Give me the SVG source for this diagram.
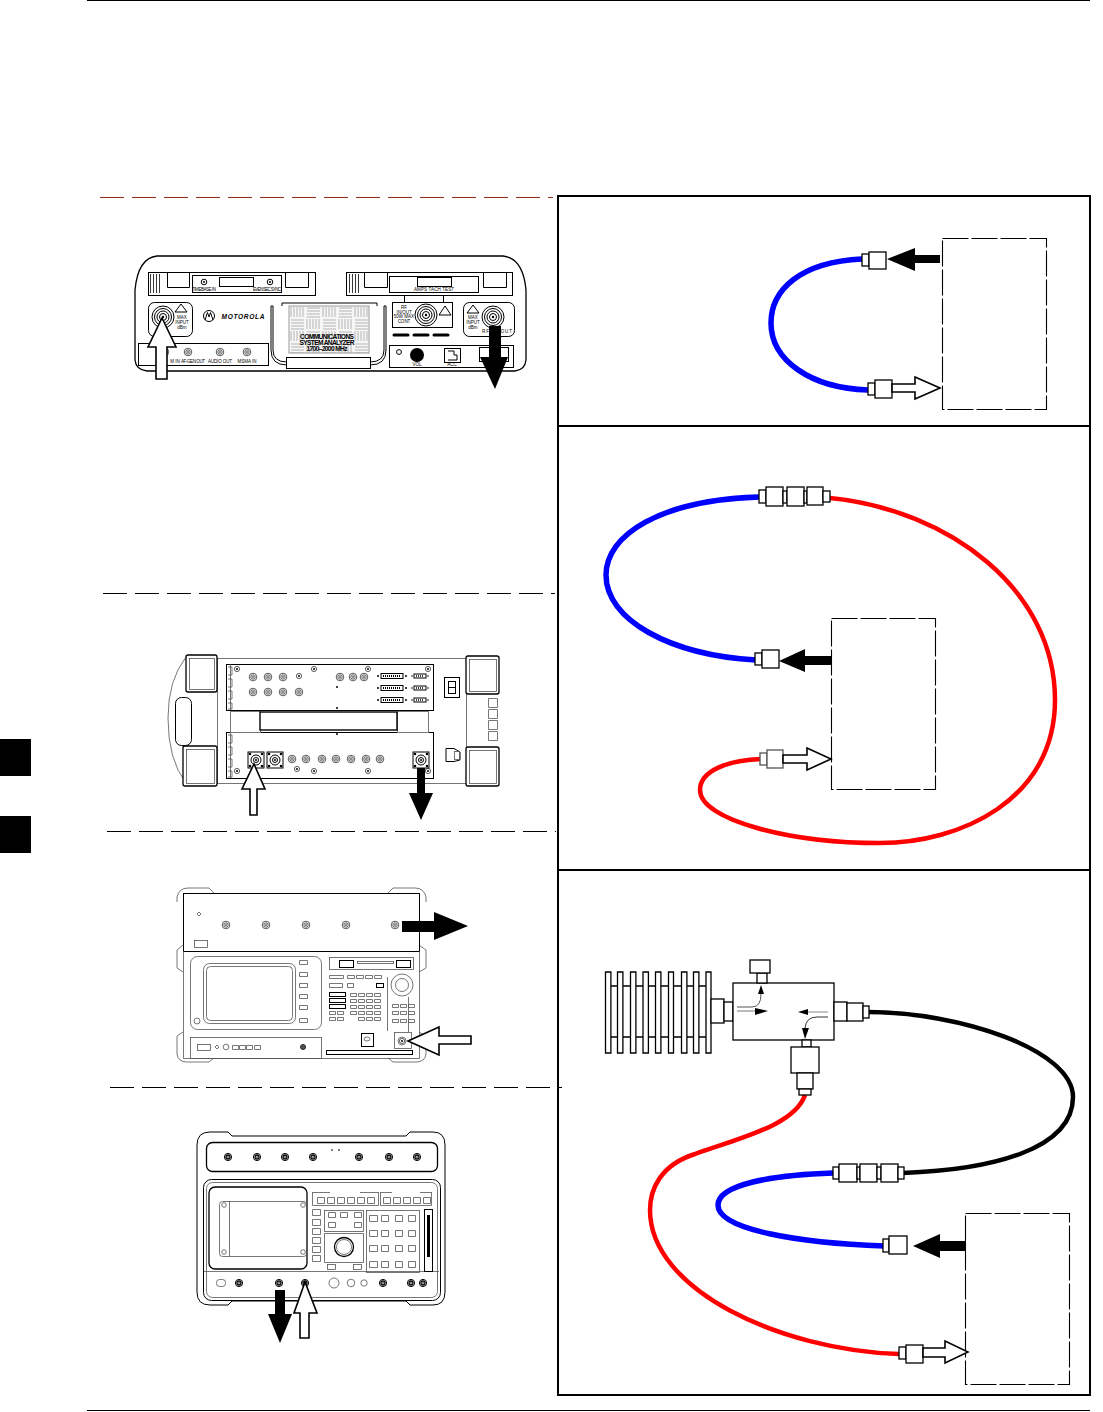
<svg xmlns="http://www.w3.org/2000/svg" width="1103" height="1412" viewBox="0 0 1103 1412">
<style>
.l{fill:none;stroke:#000;stroke-width:1}
.g{fill:none;stroke:#555;stroke-width:.8}
.w{fill:#fff;stroke:#000;stroke-width:1}
.m{fill:#fff;stroke:#000;stroke-width:1.3}
.b{fill:#000;stroke:none}
.d{fill:none;stroke:#000;stroke-width:1.1;stroke-dasharray:26 3}
.sep{fill:none;stroke:#000;stroke-width:1;stroke-dasharray:24 8}
.f{fill:none;stroke:#000;stroke-width:2}
.cb{fill:none;stroke:#00f;stroke-width:5.500}
.cr{fill:none;stroke:#f00;stroke-width:4.500}
.ck{fill:none;stroke:#000;stroke-width:4.500}
.wa{fill:#fff;stroke:#000;stroke-width:1.600}
.t{font-family:"Liberation Sans",Arial,sans-serif;font-size:4.500px;fill:#000;text-anchor:middle}
.tb{font-family:"Liberation Sans",Arial,sans-serif;font-size:6.600px;font-weight:bold;fill:#000;text-anchor:middle}
</style>
<defs>
<g id="p"><circle r="3.800" fill="#fff" stroke="#333" stroke-width=".8"/><circle r="2.200" fill="none" stroke="#333" stroke-width=".8"/><circle r=".8" class="b"/></g>
<g id="pd"><circle r="3.600" class="w"/><circle r="2" fill="none" stroke="#000" stroke-width="1.300"/><circle r=".8" class="b"/></g>
<g id="big"><circle r="11" class="w"/><circle r="8.500" class="l"/><circle r="6" class="l"/><circle r="3.500" class="l"/><circle r="1.200" class="b"/></g>
<g id="sc"><circle r="2.600" fill="#fff" stroke="#333" stroke-width=".8"/><circle r="1" class="b"/></g>
<g id="n"><rect x="-8" y="-8" width="16" height="16" class="w"/><circle r="5" class="l"/><circle r="2.500" class="l"/><circle r="1" class="b"/><circle cx="-6" cy="-6" r="1.300" class="b"/><circle cx="6" cy="-6" r="1.300" class="b"/><circle cx="-6" cy="6" r="1.300" class="b"/><circle cx="6" cy="6" r="1.300" class="b"/></g>
<g id="ds"><rect x="-11" y="-2.500" width="22" height="5" class="w"/><path d="M-9 0H9" stroke="#000" stroke-width="2" stroke-dasharray="1 1"/><circle cx="-14" r="1" class="b"/><circle cx="14" r="1" class="b"/></g>
<g id="dz"><rect x="-6" y="-2" width="12" height="4" class="w"/><path d="M-4 0H4" stroke="#000" stroke-width="1.500" stroke-dasharray="1 1"/><circle cx="-8" r=".8" class="b"/><circle cx="8" r=".8" class="b"/></g>
<pattern id="weave" width="32" height="24" patternUnits="userSpaceOnUse" x="289" y="306">
<rect width="32" height="24" fill="#f6f6f6"/>
<path d="M2 1V11M5 1V11M8 1V11M11 1V11M14 1V11M18 2H31M18 5H31M18 8H31M18 11H31M2 14H15M2 17H15M2 20H15M2 23H15M18 13V23M21 13V23M24 13V23M27 13V23M30 13V23" fill="none" stroke="#b5b5b5" stroke-width="1"/>
</pattern>
<g id="grille"><path d="M.5 0V19M3.500 0V19M6.500 0V19M9.500 0V19" fill="none" stroke="#222" stroke-width=".9"/></g>
</defs>
<rect width="1103" height="1412" fill="#fff"/>
<g id="page">
<path d="M87 .5H1090M87 1410.500H1090" class="l"/>
<rect x="0" y="739" width="31" height="37" class="b"/>
<rect x="0" y="816" width="31" height="37" class="b"/>
<path d="M100 197.500H553" fill="none" stroke="#8a2a10" stroke-width="1.100" stroke-dasharray="24 8"/>
<path d="M103 593.500H555M107 831.500H556M110 1087.500H562" class="sep"/>
</g>
<g id="frames">
<rect x="558" y="196" width="532" height="1199" class="f"/>
<path d="M558 426H1090M558 870H1090" class="f"/>
</g>

<g id="device-cdma-analyzer">
<path d="M157 256H503Q523 258 526 290V360Q525 370 515 371H147Q136 370 135 360V290Q138 258 157 256Z" class="m"/>
<rect x="148.500" y="272.500" width="167" height="23" class="l"/>
<use href="#grille" x="150" y="274"/>
<path d="M167.500 272V287.500H189.500V272M285.500 272V287.500H308.500V272" class="l"/>
<rect x="192.500" y="275.500" width="89" height="17" class="w"/>
<rect x="219.500" y="277.500" width="34" height="9" class="l"/><circle cx="204" cy="282" r="2.800" class="l"/><circle cx="204" cy="282" r="1" class="b"/><circle cx="270" cy="282" r="2.800" class="l"/><circle cx="270" cy="282" r="1" class="b"/>
<text x="204" y="291" class="t" textLength="24">TIMEBASE IN</text><text x="267" y="291" class="t" textLength="28">EVEN SEC SYNC</text>
<rect x="346.500" y="272.500" width="166" height="23" class="l"/>
<use href="#grille" x="349" y="274"/>
<path d="M364.500 272V287.500H387.500V272M483.500 272V287.500H506.500V272" class="l"/>
<rect x="389.500" y="276.500" width="89" height="16" class="w"/>
<rect x="417.500" y="277.500" width="34" height="9" class="l"/>
<text x="434" y="291" class="t" textLength="40">AMPS TACH TEST</text>
<rect x="148.500" y="302.500" width="44" height="34" rx="6" class="l"/>
<use href="#big" x="163" y="317"/>
<path d="M181 304L187 312H175Z" class="l"/>
<text x="182" y="319" class="t"><tspan x="182">MAX</tspan><tspan x="182" dy="5">INPUT</tspan><tspan x="182" dy="5">dBm</tspan></text>
<circle cx="209" cy="316" r="5.500" class="l"/>
<path d="M205 320L207.500 312.500L209 317L210.500 312.500L213 320" class="l"/>
<text x="243" y="319" class="tb" font-style="italic" textLength="43">MOTOROLA</text>
<path d="M271 306V350Q271 365 287 365M282 303H377M282 303V306M377 303V306M386 306V350Q386 365 370 365" class="l"/>
<path d="M271 306H273M384 306H386M273 306V350Q273 362 287 362M384 306V350Q384 362 370 362" class="l"/>
<rect x="289" y="306" width="80" height="47" fill="url(#weave)" stroke="#999"/>
<text x="327" y="339" class="tb" textLength="54">COMMUNICATIONS</text><text x="327" y="345" class="tb" textLength="55">SYSTEM ANALYZER</text><text x="327" y="351" class="tb" textLength="41">1700–2000 MHz</text>
<rect x="286.500" y="357.500" width="84" height="11" class="w"/>
<rect x="138.500" y="343.500" width="130" height="22" class="l"/>
<use href="#p" x="165" y="352"/><use href="#p" x="188" y="352"/><use href="#p" x="220" y="352"/><use href="#p" x="247" y="352"/>
<text x="175" y="363" class="t">M IN</text><text x="193" y="363" class="t" textLength="24">AF-GEN OUT</text><text x="220" y="363" class="t" textLength="24">AUDIO OUT</text><text x="247" y="363" class="t" textLength="19">MSMA IN</text>
<path d="M404.500 295V302M443.500 295V302" class="l"/>
<rect x="392.500" y="302.500" width="60" height="25" class="l"/>
<text x="404" y="309" class="t"><tspan x="404">RF</tspan><tspan x="404" dy="4.500">IN/OUT</tspan><tspan x="404" dy="4.500">50W MAX</tspan><tspan x="404" dy="4.500">CONT</tspan></text>
<use href="#big" x="426" y="315"/>
<path d="M445 306L451 315H439Z" class="l"/>
<rect x="463.500" y="302.500" width="51" height="34" rx="6" class="l"/>
<use href="#big" x="493" y="317"/>
<path d="M473 305L479 313H467Z" class="l"/>
<text x="473" y="319" class="t"><tspan x="473">MAX</tspan><tspan x="473" dy="5">INPUT</tspan><tspan x="473" dy="5">dBm</tspan></text>
<text x="497" y="333" class="t" textLength="30">RF IN/OUT</text>
<path d="M394 335H408M414 335H428M434 335H448" stroke="#000" stroke-width="3" stroke-linecap="round"/>
<rect x="389.500" y="345.500" width="124" height="22" class="l"/>
<circle cx="399" cy="352" r="2.400" class="l"/><circle cx="417" cy="355" r="7" class="b"/>
<text x="417" y="366" class="t">VOL</text>
<rect x="444.500" y="348.500" width="16" height="14" class="l"/><path d="M448 351H454V355H457V360H448" class="l"/>
<text x="452" y="366" class="t">ACC</text>
<rect x="479.500" y="347.500" width="29" height="14" class="l"/>
</g>

<g id="device-hp8921">
<path d="M186 657Q168 680 168 718Q168 760 186 783" class="g"/>
<rect x="175.500" y="697.500" width="16" height="48" rx="6" class="w" stroke="#555"/>
<rect x="217.500" y="658.500" width="249" height="125" class="g"/>
<rect x="186" y="655" width="31" height="37" rx="2" class="m"/><rect x="183" y="746" width="34" height="40" rx="2" class="m"/>
<rect x="466" y="656" width="33" height="38" rx="2" class="m"/><rect x="466" y="747" width="33" height="39" rx="2" class="m"/>
<rect x="189.500" y="658.500" width="25" height="31" class="g"/><rect x="186.500" y="749.500" width="28" height="34" class="g"/><rect x="469.500" y="659.500" width="27" height="32" class="g"/><rect x="469.500" y="750.500" width="27" height="33" class="g"/>
<rect x="226.500" y="664.500" width="207" height="46" class="l"/><rect x="226.500" y="732.500" width="207" height="46" class="l"/>
<path d="M230.500 664V710M230.500 732V778M228 667H232V675H228M228 679H232V687H228M228 691H232V699H228M228 703H232V709H228M228 735H232V743H228M228 747H232V755H228M228 759H232V767H228M228 771H232V777H228" class="g"/>
<rect x="230.500" y="711.500" width="30" height="21" fill="#fff" stroke="#777"/><rect x="397.500" y="711.500" width="31" height="21" fill="#fff" stroke="#777"/>
<rect x="260" y="712" width="137" height="18" fill="#fff" stroke="#000" stroke-width="1.400"/>
<use href="#p" x="253" y="677"/><use href="#p" x="268" y="677"/><use href="#p" x="283" y="677"/><use href="#sc" x="299" y="676"/><use href="#p" x="340" y="677"/><use href="#p" x="353" y="677"/><use href="#p" x="364" y="677"/>
<use href="#p" x="253" y="692"/><use href="#p" x="268" y="692"/><use href="#p" x="283" y="692"/><use href="#p" x="299" y="692"/>
<use href="#sc" x="237" y="669"/><use href="#sc" x="314" y="669"/><use href="#sc" x="368" y="669"/><use href="#sc" x="428" y="669"/>
<use href="#sc" x="237" y="771"/><use href="#sc" x="314" y="771"/><use href="#sc" x="368" y="771"/><use href="#sc" x="428" y="771"/><use href="#sc" x="297" y="769"/>
<use href="#ds" x="392" y="676"/><use href="#ds" x="392" y="688"/><use href="#ds" x="392" y="700"/>
<use href="#dz" x="420" y="676"/><use href="#dz" x="420" y="688"/><use href="#dz" x="420" y="700"/>
<circle cx="337" cy="687" r="1" class="b"/><circle cx="337" cy="708" r="1" class="b"/><circle cx="337" cy="734" r="1" class="b"/>
<rect x="444.500" y="677.500" width="15" height="20" class="l"/><rect x="448.500" y="681.500" width="7" height="12" class="l"/><path d="M448 687.500H455" class="l"/>
<path d="M488.500 698.500h9v9h-9zM488.500 709.500h9v9h-9zM488.500 720.500h9v9h-9zM488.500 731.500h9v9h-9z" class="g"/>
<path d="M446 748.500H454L460 752V760L454 761.500H446Z" class="l"/><rect x="454.500" y="751.500" width="5" height="8" class="g"/>
<use href="#n" x="275" y="760"/><use href="#n" x="256" y="760"/><use href="#n" x="421" y="760"/>
<use href="#p" x="292" y="759"/><use href="#p" x="306" y="759"/><use href="#p" x="322" y="759"/><use href="#p" x="336" y="759"/><use href="#p" x="351" y="759"/><use href="#p" x="366" y="759"/><use href="#p" x="380" y="759"/>
</g>

<g id="device-spectrum-analyzer">
<path d="M177 902V897Q179 888 188 888H209L214 893M426 902V897Q424 888 415 888H393L388 893M183 945L177 950V968L183 972M419 945L426 950V968L419 972M183 1032L177 1036V1054Q178 1062 187 1062H209L214 1058M419 1032L426 1036V1054Q425 1062 416 1062H393L388 1058" class="g"/>
<rect x="183.500" y="893.500" width="236" height="58" class="l"/>
<path d="M183.500 951V1058.500H419.500V951" class="g"/>
<path d="M197 914l2-2 2 2-2 2z" class="g"/>
<use href="#p" x="226" y="925"/><use href="#p" x="266" y="925"/><use href="#p" x="306" y="925"/><use href="#p" x="346" y="925"/><use href="#p" x="395" y="925"/>
<rect x="194.500" y="940.500" width="13" height="7" class="g"/>
<rect x="190.500" y="956.500" width="131" height="73" rx="7" class="g"/>
<rect x="203.500" y="963.500" width="92" height="60" rx="6" class="g"/><rect x="206.500" y="966.500" width="86" height="54" rx="4" class="g"/>
<circle cx="197" cy="1021" r="3" class="g"/>
<path d="M299.500 960.500h8v4h-8zM299.500 972.500h8v4h-8zM299.500 983.500h8v4h-8zM299.500 994.500h8v4h-8zM299.500 1005.500h8v4h-8zM299.500 1018.500h8v4h-8z" class="g"/>
<rect x="190.500" y="1037.500" width="131" height="21" class="g"/>
<rect x="197.500" y="1044.500" width="13" height="6" class="g"/><path d="M215 1047l2-2 2 2-2 2z" class="g"/><circle cx="226" cy="1047" r="2.800" class="g"/>
<path d="M232.500 1045.500h6v4h-6zM239.500 1045.500h6v4h-6zM246.500 1045.500h6v4h-6zM254.500 1045.500h6v4h-6z" class="g"/>
<circle cx="303" cy="1047" r="2.500" fill="#555" stroke="#222"/>
<rect x="329.500" y="957.500" width="84" height="12" class="g"/><rect x="339.500" y="960.500" width="14" height="7" class="l"/><rect x="357.500" y="961.500" width="36" height="2" class="g"/><rect x="396.500" y="960.500" width="14" height="7" class="l"/>
<path d="M329.500 975.500h14v3h-14zM347.500 975.500h7v3h-7zM356.500 975.500h7v3h-7zM365.500 975.500h7v3h-7zM374.500 975.500h7v3h-7z" class="g"/>
<path d="M329.500 983.500h13v4h-13zM347.500 983.500h6v4h-6z" class="g"/><rect x="376.500" y="983.500" width="7" height="4" class="l"/>
<rect x="329.500" y="992.500" width="16" height="4" class="w"/><rect x="329.500" y="998.500" width="16" height="4" class="w"/><rect x="329.500" y="1004.500" width="16" height="4" class="w"/>
<path d="M350.500 993.500h6v3h-6zM358.500 993.500h6v3h-6zM366.500 993.500h6v3h-6zM374.500 993.500h6v3h-6zM350.500 999.500h6v3h-6zM358.500 999.500h6v3h-6zM366.500 999.500h6v3h-6zM374.500 999.500h6v3h-6zM350.500 1005.500h6v3h-6zM358.500 1005.500h6v3h-6zM366.500 1005.500h6v3h-6zM374.500 1005.500h6v3h-6zM350.500 1011.500h6v3h-6zM358.500 1011.500h6v3h-6zM366.500 1011.500h6v3h-6zM374.500 1011.500h6v3h-6zM329.500 1011.500h6v3h-6zM337.500 1011.500h6v3h-6zM329.500 1017.500h6v3h-6zM337.500 1017.500h6v3h-6zM358.500 1017.500h6v3h-6zM366.500 1017.500h6v3h-6zM374.500 1017.500h6v3h-6z" class="g"/>
<path d="M387.500 977V1031M408.500 997V1032" class="g"/>
<circle cx="402" cy="985" r="11" class="g"/><circle cx="402" cy="985" r="6.500" class="g"/>
<path d="M392.500 1004.500h6v3h-6zM400.500 1004.500h6v3h-6zM408.500 1004.500h6v3h-6zM392.500 1011.500h6v3h-6zM400.500 1011.500h6v3h-6zM408.500 1011.500h6v3h-6zM392.500 1019.500h6v3h-6zM400.500 1019.500h6v3h-6zM408.500 1019.500h6v3h-6z" class="g"/>
<rect x="361.500" y="1033.500" width="12" height="13" class="l"/><ellipse cx="367" cy="1039" rx="3" ry="2" class="g"/>
<rect x="394.500" y="1032.500" width="17" height="16" class="g"/><use href="#sc" x="402" y="1041"/><circle cx="402" cy="1041" r="4" class="g"/>
<rect x="326.500" y="1050.500" width="86" height="4" class="l"/>
</g>

<g id="device-cms54">
<path d="M197 1145Q197 1132 210 1132H228L232 1136H406L410 1132H433Q445 1132 445 1145V1292Q445 1305 433 1305H410L406 1301H232L228 1305H210Q197 1305 197 1292Z" class="l"/>
<rect x="206.500" y="1142.500" width="231" height="29" rx="6" class="m"/>
<rect x="203.500" y="1179.500" width="237" height="121" rx="8" class="l"/><rect x="206.500" y="1182.500" width="231" height="115" rx="6" class="g"/>
<path d="M204 1271.500H439" class="g"/>
<use href="#pd" x="228" y="1157"/><use href="#pd" x="257" y="1157"/><use href="#pd" x="285" y="1157"/><use href="#pd" x="313" y="1157"/><use href="#pd" x="359" y="1157"/><use href="#pd" x="389" y="1157"/><use href="#pd" x="417" y="1157"/>
<circle cx="332" cy="1150" r=".9" fill="#444"/><circle cx="339" cy="1150" r=".9" fill="#444"/>
<rect x="209" y="1187" width="98" height="82" rx="6" class="m"/>
<rect x="219.500" y="1201.500" width="87" height="55" rx="3" class="g"/><path d="M229.500 1201V1256" class="g"/>
<circle cx="224" cy="1205" r="2.300" class="g"/><circle cx="224" cy="1252" r="2.300" class="g"/><circle cx="303" cy="1205" r="2.300" class="g"/><circle cx="303" cy="1252" r="2.300" class="g"/>
<path d="M312.500 1209.500h8v6h-8zM312.500 1219.500h8v6h-8zM312.500 1228.500h8v6h-8zM312.500 1237.500h8v6h-8zM312.500 1246.500h8v6h-8zM312.500 1255.500h8v6h-8z" class="g"/>
<path d="M312.500 1192V1205.500H378.500V1192M312.500 1192.500H330M360 1192.500H378.500M380.500 1192V1205.500H431.500V1192M380.500 1192.500H392M420 1192.500H431.500" class="g"/>
<path d="M317.500 1197.500h7v6h-7zM327.500 1197.500h7v6h-7zM337.500 1197.500h7v6h-7zM347.500 1197.500h7v6h-7zM357.500 1197.500h7v6h-7zM367.500 1197.500h7v6h-7zM383.500 1197.500h7v6h-7zM393.500 1197.500h7v6h-7zM403.500 1197.500h7v6h-7zM413.500 1197.500h7v6h-7zM423.500 1197.500h7v6h-7z" class="g"/>
<rect x="324.500" y="1210.500" width="39" height="21" class="g"/>
<path d="M328.500 1212.500h7v5h-7zM340.500 1212.500h7v5h-7zM354.500 1212.500h7v5h-7zM328.500 1222.500h7v5h-7zM354.500 1222.500h7v5h-7z" class="g"/>
<path d="M324.500 1233.500H363.500V1262.500H324.500Z" class="g"/><circle cx="344" cy="1247" r="9.500" class="m"/><circle cx="344" cy="1247" r="7.500" class="g"/>
<rect x="327.500" y="1264.500" width="8" height="5" class="g"/><rect x="353.500" y="1264.500" width="8" height="5" class="g"/>
<rect x="366.500" y="1210.500" width="53" height="62" class="g"/>
<path d="M369.500 1215.500h8v6h-8zM381.500 1215.500h7v6h-7zM395.500 1215.500h7v6h-7zM408.500 1215.500h7v6h-7zM369.500 1230.500h8v6h-8zM381.500 1230.500h7v6h-7zM395.500 1230.500h7v6h-7zM408.500 1230.500h7v6h-7zM369.500 1245.500h8v6h-8zM381.500 1245.500h7v6h-7zM395.500 1245.500h7v6h-7zM408.500 1245.500h7v6h-7zM369.500 1261.500h8v6h-8zM381.500 1261.500h7v6h-7zM395.500 1261.500h7v6h-7zM408.500 1261.500h7v6h-7z" class="g"/>
<rect x="424.500" y="1209.500" width="8" height="62" class="w"/><rect x="427" y="1215" width="3" height="42" class="b"/>
<rect x="216.500" y="1279.500" width="9" height="7" rx="3" class="g"/><use href="#pd" x="239" y="1283"/><use href="#pd" x="279" y="1283"/><use href="#pd" x="305" y="1283"/>
<circle cx="334" cy="1283" r="5" class="g"/><circle cx="351" cy="1283" r="3.800" class="g"/><circle cx="364" cy="1283" r="3.200" class="g"/>
<use href="#pd" x="383" y="1283"/><use href="#pd" x="411" y="1283"/><use href="#pd" x="423" y="1283"/>
</g>

<g id="bay-1-dut">
<rect x="942.500" y="238.500" width="104" height="171" class="d"/>
</g>
<g id="bay-2-dut">
<rect x="831.500" y="618.500" width="104" height="171" class="d"/>
</g>
<g id="bay-3-dut">
<rect x="965.500" y="1213.500" width="104" height="171" class="d"/>
</g>

<g id="connectors">
<path d="M862 259C800 262 771 290 771 323C771 360 810 388 868 390" class="cb"/>
<path d="M759 497C660 500 606 535 606 575C606 620 670 655 756 660" class="cb"/>
<path d="M830 498C950 510 1055 590 1055 700C1055 800 960 843 880 843C790 843 700 820 700 790C700 770 730 760 761 759" class="cr"/>
<path d="M805 1095C795 1125 740 1138 695 1154C660 1165 650 1190 650 1210C650 1290 780 1350 899 1354" class="cr"/>
<path d="M868 1012C960 1012 1073 1050 1073 1097C1073 1150 990 1170 903 1173" class="ck"/>
<path d="M833 1173C770 1175 718 1185 718 1205C718 1230 800 1243 884 1246" class="cb"/>

<polygon points="162,318 176,347 167,347 167,379 156,379 156,347 148,347" class="wa"/>
<polygon points="489,326 501,326 501,357 508,357 495,389 480,357 489,357" class="b"/>
<polygon points="254,764 265,789 257,789 257,815 250,815 250,789 242,789" class="wa"/>
<polygon points="417,768 425,768 425,793 433,793 421,820 409,793 417,793" class="b"/>
<polygon points="402,921 434,921 434,912 468,926 434,940 434,932 402,932" class="b"/>
<polygon points="408,1041 439,1027 439,1036 471,1036 471,1044 439,1044 439,1055" class="wa"/>
<polygon points="305,1282 317,1313 309,1313 309,1338 300,1338 300,1313 294,1313" class="wa"/>
<polygon points="275,1290 285,1290 285,1314 292,1314 280,1343 268,1314 275,1314" class="b"/>

<rect x="862" y="254" width="7" height="12" class="m"/><rect x="869" y="252" width="17" height="17" class="m"/>
<polygon points="887,259 915,248 915,255 940,255 940,263 915,263 915,271" class="b"/>
<rect x="868" y="383" width="7" height="12" class="m"/><rect x="875" y="380" width="17" height="18" class="m"/>
<polygon points="892,384 915,384 915,377 940,388 915,399 915,392 892,392" class="wa"/>

<rect x="759" y="490" width="7" height="13" class="m"/><rect x="766" y="487" width="17" height="19" class="m"/><rect x="783" y="491" width="4" height="12" class="m"/><rect x="787" y="487" width="17" height="19" class="m"/><rect x="804" y="491" width="3" height="12" class="m"/><rect x="807" y="487" width="16" height="18" class="m"/><rect x="823" y="491" width="7" height="11" class="m"/>
<rect x="755" y="653" width="7" height="12" class="m"/><rect x="762" y="650" width="17" height="18" class="m"/>
<polygon points="779,661 805,649 805,656 831,656 831,665 805,665 805,672" class="b"/>
<rect x="760" y="753" width="7" height="12" class="m" style="stroke:#555"/><rect x="767" y="750" width="16" height="18" class="m" style="stroke:#555"/>
<polygon points="783,755 807,755 807,748 831,759 807,770 807,763 783,763" class="wa"/>

<rect x="833" y="1167" width="6" height="12" class="m"/><rect x="839" y="1164" width="18" height="18" class="m"/><rect x="857" y="1167" width="3" height="12" class="m"/><rect x="860" y="1164" width="17" height="18" class="m"/><rect x="877" y="1167" width="4" height="12" class="m"/><rect x="881" y="1164" width="17" height="18" class="m"/><rect x="898" y="1167" width="6" height="12" class="m"/>
<rect x="883" y="1239" width="6" height="13" class="m"/><rect x="889" y="1236" width="18" height="18" class="m"/>
<polygon points="913,1246 940,1234 940,1241 966,1241 966,1251 940,1251 940,1258" class="b"/>
<rect x="899" y="1347" width="7" height="12" class="m"/><rect x="906" y="1345" width="17" height="18" class="m"/>
<polygon points="923,1348 945,1348 945,1341 968,1352 945,1363 945,1357 923,1357" class="wa"/>
</g>

<g id="attenuator">
<path d="M611 986H711M611 1037H711" class="m"/>
<path d="M605.500 972h5.400v81h-5.400zM617.500 972h5.400v81h-5.400zM630.500 972h5.400v81h-5.400zM643 972h5.400v81h-5.400zM655.500 972h5.400v81h-5.400zM668.500 972h5v81h-5zM681.500 972h5.400v81h-5.400zM693.500 972h5.400v81h-5.400zM706 972h5v81h-5z" class="m"/>
<rect x="711" y="999" width="13" height="24" class="m"/><rect x="724" y="1002" width="9" height="19" class="m"/>
</g>
<g id="directional-coupler">
<rect x="733" y="983" width="101" height="57" class="m"/>
<rect x="757" y="973" width="10" height="10" class="m"/><rect x="750" y="960" width="20" height="13" class="m"/>
<rect x="834" y="1002" width="13" height="19" class="m"/><rect x="847" y="1003" width="16" height="18" class="m"/><rect x="863" y="1006" width="6" height="12" class="m"/>
<rect x="802" y="1040" width="9" height="7" class="m"/><rect x="791" y="1047" width="28" height="26" class="m"/><rect x="797" y="1073" width="16" height="16" class="m"/><rect x="799" y="1089" width="12" height="6" class="m"/>
<path d="M737 1007H752Q761 1007 761 994" fill="none" stroke="#555" stroke-width="1"/>
<polygon points="761,985 764,994 758,994" class="b"/>
<path d="M737 1011H757" fill="none" stroke="#777" stroke-width="1"/>
<polygon points="768,1011 755,1008 755,1015" class="b"/>
<path d="M828 1012H807" fill="none" stroke="#888" stroke-width="1"/>
<polygon points="798,1012 808,1009 808,1015" class="b"/>
<path d="M828 1017H817Q806 1017 805 1028" fill="none" stroke="#333" stroke-width="1"/>
<polygon points="805,1039 802,1028 809,1028" class="b"/>
</g>
</svg>
